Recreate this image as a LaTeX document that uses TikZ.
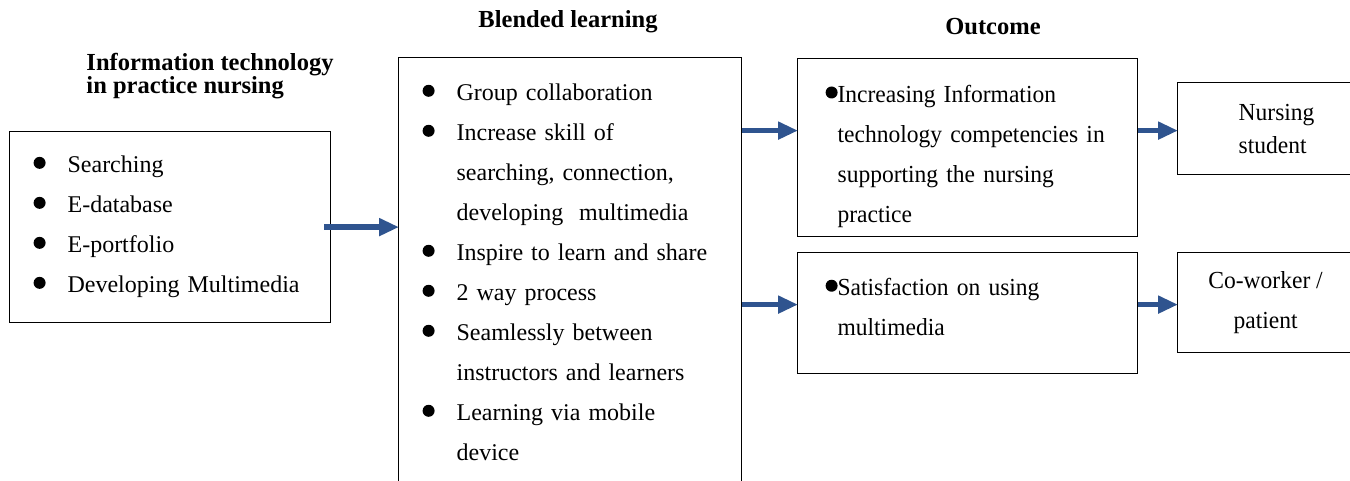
\documentclass[tikz,border=0pt]{standalone}
\usepackage{fontspec}
\setmainfont{Liberation Serif}
\newfontfamily\narrowserif[FakeStretch=0.96]{Liberation Serif}
\usetikzlibrary{arrows.meta,positioning}

\definecolor{flowblue}{RGB}{47,84,143}
\newcommand{\dotmark}{\tikz[baseline=-10pt]\fill (0,0) circle (6pt);}
\newcommand{\litem}{\makebox[34pt][l]{\dotmark}}
\newcommand{\lcont}{\hspace*{34pt}}
\newcommand{\oitem}{\makebox[12pt][l]{\tikz[baseline=-10pt]\fill (0,0) circle (6pt);}}
\newcommand{\ocont}{\hspace*{12pt}}

\begin{document}
\begin{tikzpicture}[
		x=1pt, y=-1pt,
		box/.style={
			draw, line width=1.2pt, rectangle, anchor=north west,
			align=left, inner ysep=0pt,
			font=\fontsize{24}{40}\selectfont,
		},
		outbox/.style={
			box, inner xsep=28pt, text width=284pt, minimum width=340pt,
			font=\fontsize{24.5}{40}\narrowserif,
		},
		endbox/.style={
			box, inner xsep=0pt, font=\fontsize{24.5}{40}\narrowserif,
		},
		heading/.style={
			align=left, inner sep=0pt,
			font=\fontsize{24.5}{22}\selectfont\bfseries,
		},
		flow/.style={
			draw=flowblue, line width=5.5pt,
			-{Triangle[length=20pt,width=17pt]},
			shorten >=-1pt,
		},
	]
		\clip (0,0) rectangle (1350,480);

		% headings
		\node[heading] (techT) at (210,76) {Information technology\\in practice nursing};
		\node[heading] (blendT) at (568,22) {Blended learning};
		\node[heading] (outT) at (993,27) {Outcome};

		% boxes
		\node[box, inner xsep=24pt, text width=273pt,
			minimum width=321pt, minimum height=191pt] (tech) at (9,131) {
			\litem Searching\\
			\litem E-database\\
			\litem E-portfolio\\
			\litem Developing Multimedia};
		\node[box, inner xsep=24pt, text width=295pt,
			minimum width=343pt, minimum height=430pt] (blend) at (398,57) {
			\litem Group collaboration\\
			\litem Increase skill of\\
			\lcont searching, connection,\\
			\lcont developing\ \ multimedia\\
			\litem Inspire to learn and share\\
			\litem 2 way process\\
			\litem Seamlessly between\\
			\lcont instructors and learners\\
			\litem Learning via mobile\\
			\lcont device};
		\node[outbox, minimum height=178pt] (itout) at (797,58) {
			\rule{0pt}{35pt}\oitem Increasing Information\\
			\ocont technology competencies in\\
			\ocont supporting the nursing\\
			\ocont practice};
		\node[outbox, minimum height=121pt] (satout) at (797,252) {
			\oitem Satisfaction on using\\
			\ocont multimedia\rule[-12pt]{0pt}{1pt}};
		\node[endbox, font=\fontsize{24.5}{33}\narrowserif,
			minimum width=198pt, minimum height=92pt] (nurse) at (1177,82) {
			Nursing\\student};
		\node[endbox, align=center, minimum width=176pt, minimum height=100pt] (cowork) at (1177,252) {
			Co-worker /\\patient};

		% arrows
		\coordinate (in1) at ([yshift=17pt]itout.west);
		\coordinate (in2) at ([yshift=8.5pt]satout.west);
		\draw[flow] ([xshift=-7pt]tech.east) -- (tech.east -| blend.west);
		\draw[flow] (in1 -| blend.east) -- (in1);
		\draw[flow] (in2 -| blend.east) -- (in2);
		\draw[flow] (in1 -| itout.east) -- (in1 -| nurse.west);
		\draw[flow] (in2 -| satout.east) -- (in2 -| cowork.west);
	\end{tikzpicture}
\end{document}
